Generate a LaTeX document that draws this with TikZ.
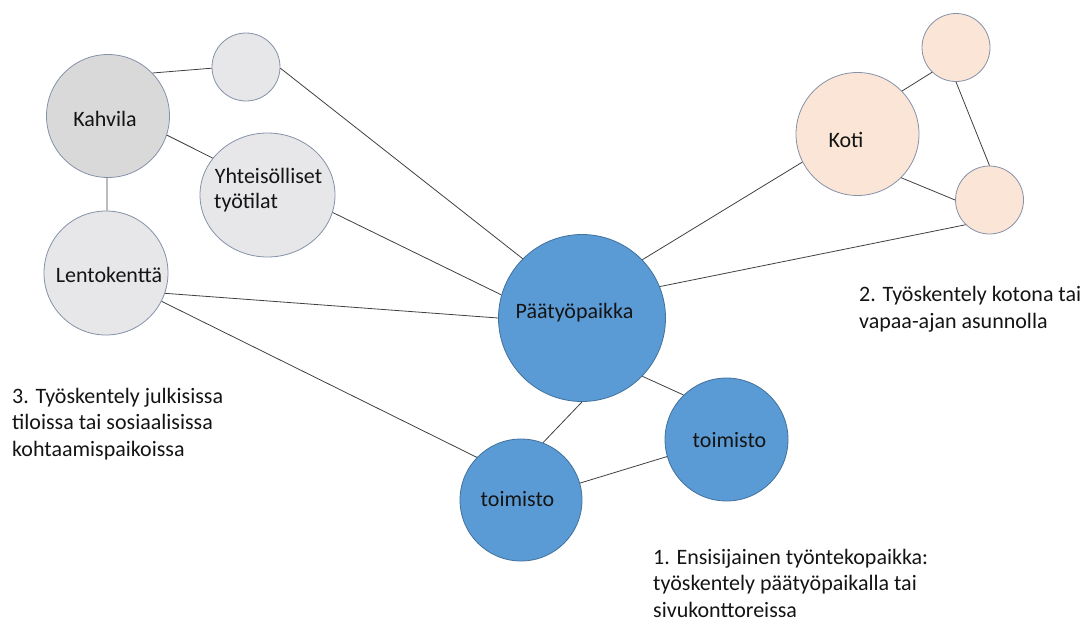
\documentclass[tikz,border=0pt]{standalone}
\usepackage{fontspec}
\setmainfont{Carlito}
\usetikzlibrary{shapes.geometric}
\definecolor{rimgray}{RGB}{132,145,168}
\definecolor{rimblue}{RGB}{65,113,156}
\definecolor{cafegray}{RGB}{217,217,217}
\definecolor{lightgray}{RGB}{231,230,232}
\definecolor{peach}{RGB}{251,229,214}
\definecolor{officeblue}{RGB}{91,155,213}
\definecolor{linkgray}{RGB}{64,64,64}
\definecolor{ink}{RGB}{20,20,20}
\begin{document}
\begin{tikzpicture}[x=1pt,y=-1pt,
  spot/.style={circle,draw=rimgray,line width=0.8pt,inner sep=0pt},
  greyspot/.style={spot,fill=lightgray},
  homespot/.style={spot,fill=peach},
  workspot/.style={spot,draw=rimblue,fill=officeblue},
  link/.style={draw=linkgray,line width=0.8pt},
  lbl/.style={anchor=base,inner sep=0pt,text=ink,font=\fontsize{22}{26}\selectfont},
  note/.style={anchor=base west,inner sep=0pt,align=left,text=ink,font=\fontsize{22}{26.5}\selectfont}]
\useasboundingbox (0,0) rectangle (1086,624);

% public places
\node[greyspot,minimum size=68pt] (smallg) at (246,67) {};
\node[spot,fill=cafegray,minimum size=123pt] (kahvila) at (108,116) {};
\node[greyspot,ellipse,minimum width=135pt,minimum height=124pt] (yht) at (267.5,195) {};
\node[greyspot,minimum size=124pt] (lento) at (106,273) {};

% main workplace and offices
\node[workspot,minimum size=167pt] (paa) at (582,318) {};
\node[workspot,minimum size=123pt] (toimR) at (726.5,439.5) {};
\node[workspot,minimum size=122pt] (toimL) at (521,500) {};

% home
\node[homespot,minimum size=123pt] (koti) at (857.5,134) {};
\node[homespot,minimum size=68pt] (smallTR) at (956,47.5) {};
\node[homespot,minimum size=68pt] (smallR) at (989.5,200) {};

% connections
\draw[link] (kahvila.44) -- (smallg.182);
\draw[link] (smallg.-2) -- (paa.135);
\draw[link] (kahvila.-18) -- (yht.146);
\draw[link] (kahvila.-91) -- (lento.89);
\draw[link] (yht.-15) -- (paa.164);
\draw[link] (lento.-19) -- (paa.180);
\draw[link] (lento.-27) -- (toimL.136);
\draw[link] (paa.-90) -- (toimL.69);
\draw[link] (paa.-44) -- (toimR.134);
\draw[link] (toimL.16) -- (toimR.196);
\draw[link] (paa.44) -- (koti.207);
\draw[link] (paa.22) -- (smallR.226);
\draw[link] (koti.44) -- (smallTR.226);
\draw[link] (koti.-45) -- (smallR.180);
\draw[link] (smallTR.-90) -- (smallR.90);

% labels inside the circles
\node[lbl] (tKahvila) at (105,126) {Kahvila};
\node[lbl] (tYht1) at (268.5,183) {Yhteisölliset};
\node[lbl,anchor=base west] (tYht2) at (214,208) {työtilat};
\node[lbl] (tLento) at (109,282) {Lentokenttä};
\node[lbl] (tPaa) at (574.5,318) {Päätyöpaikka};
\node[lbl] (tToimR) at (729.5,447) {toimisto};
\node[lbl] (tToimL) at (517.5,506) {toimisto};
\node[lbl] (tKoti) at (846,147) {Koti};

% captions (anchored at the baseline of their last line)
\node[note] (cap3) at (12,456) {3. Työskentely julkisissa\\tiloissa tai sosiaalisissa\\kohtaamispaikoissa};
\node[note] (cap2) at (859,328) {2. Työskentely kotona tai\\vapaa-ajan asunnolla};
\node[note] (cap1) at (653,617) {1. Ensisijainen työntekopaikka:\\työskentely päätyöpaikalla tai\\sivukonttoreissa};
\end{tikzpicture}
\end{document}
